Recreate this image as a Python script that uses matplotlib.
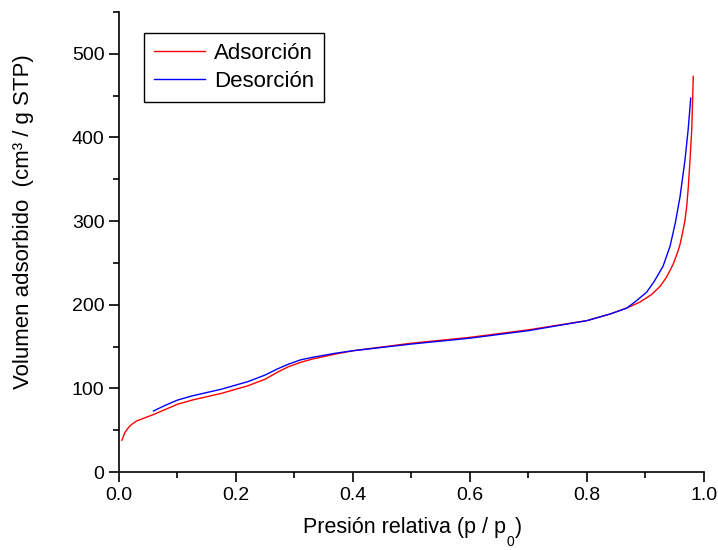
import matplotlib
matplotlib.use('Agg')
import matplotlib.pyplot as plt
from matplotlib.ticker import MultipleLocator, FormatStrFormatter

ads_p = [0.005, 0.01, 0.015, 0.02, 0.03, 0.045, 0.06, 0.08, 0.1, 0.125, 0.15, 0.175,
         0.2, 0.22, 0.25, 0.27, 0.29, 0.31, 0.33, 0.37, 0.4, 0.5, 0.6, 0.7, 0.8,
         0.84, 0.868, 0.89, 0.91, 0.925, 0.936, 0.947, 0.955, 0.959, 0.963, 0.9675,
         0.9705, 0.9732, 0.976, 0.979, 0.9817]
ads_v = [38, 47, 52, 56, 61, 65, 69, 75, 81, 86, 90, 94,
         99, 103, 111, 119, 126, 131, 135, 141, 145, 154, 161, 170, 181,
         189, 196, 203, 212, 222, 233, 248, 263, 272, 285, 301,
         318, 341, 372, 409, 473]

des_p = [0.059, 0.08, 0.1, 0.125, 0.15, 0.175, 0.2, 0.22, 0.25, 0.27, 0.29, 0.31,
         0.33, 0.37, 0.4, 0.5, 0.6, 0.7, 0.8, 0.84, 0.868, 0.885, 0.902, 0.915,
         0.93, 0.942, 0.951, 0.959, 0.9675, 0.973, 0.9773]
des_v = [73, 80, 86, 91, 95, 99, 104, 108, 116, 123, 129, 134,
         137, 142, 145, 153, 160, 169, 181, 189, 196, 205, 215, 228,
         246, 270, 298, 329, 373, 410, 447]

plt.rcParams['font.family'] = ['Liberation Sans', 'DejaVu Sans']

fig = plt.figure(figsize=(7.18, 5.5), dpi=100)
ax = fig.add_axes([0.1657, 0.1418, 0.8148, 0.8364])

ax.plot(ads_p, ads_v, color='#ff0000', lw=1.0, label='Adsorción')
ax.plot(des_p, des_v, color='#0000ff', lw=1.0, label='Desorción')

ax.set_xlim(0, 1.0)
ax.set_ylim(0, 550)
ax.xaxis.set_major_locator(MultipleLocator(0.2))
ax.xaxis.set_minor_locator(MultipleLocator(0.1))
ax.xaxis.set_major_formatter(FormatStrFormatter('%.1f'))
ax.yaxis.set_major_locator(MultipleLocator(100))
ax.yaxis.set_minor_locator(MultipleLocator(50))

for s in ['top', 'right']:
    ax.spines[s].set_visible(False)
for s in ['left', 'bottom']:
    ax.spines[s].set_linewidth(1.2)

ax.tick_params(which='major', direction='out', length=7, width=1.2, labelsize=14)
ax.tick_params(which='minor', direction='out', length=4, width=1.2)

# axis titles placed by hand (the subscript sits low like in the original)
fig.text(24 / 718, 1 - 222 / 550, 'Volumen adsorbido  (cm³ / g STP)',
         rotation=90, ha='center', va='center', fontsize=16)
xl = fig.text(303 / 718, 1 - 527 / 550, 'Presión relativa (p / p',
              ha='left', va='center', fontsize=15.5)
sub = ax.annotate('0', xy=(1, 0), xycoords=xl, xytext=(0.5, 2),
                  textcoords='offset points', ha='left', va='top', fontsize=10,
                  annotation_clip=False)
ax.annotate(')', xy=(1, 0.5), xycoords=(sub, xl), xytext=(0.5, 0),
            textcoords='offset points', ha='left', va='center', fontsize=15.5,
            annotation_clip=False)

leg = ax.legend(loc='upper left', bbox_to_anchor=(0.043, 0.954), borderaxespad=0,
                fontsize=16, fancybox=False, edgecolor='black', framealpha=1,
                handlelength=2.3, handletextpad=0.4, borderpad=0.45, labelspacing=0.3)
leg.get_frame().set_linewidth(1.0)

plt.savefig('out.png', dpi=100)
plt.close()
